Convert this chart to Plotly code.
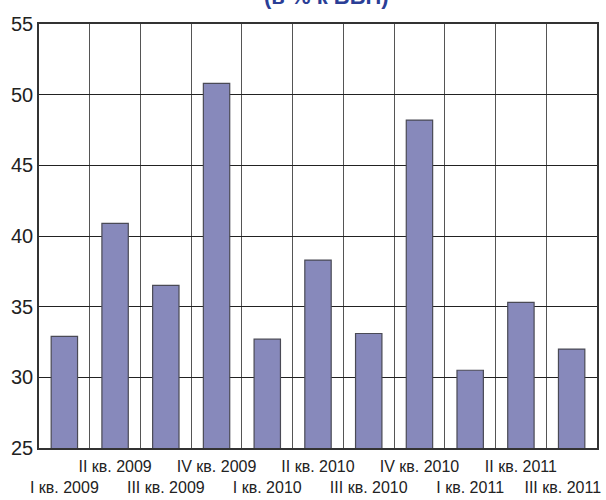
import plotly.graph_objects as go

categories = ["I кв. 2009", "II кв. 2009", "III кв. 2009", "IV кв. 2009",
              "I кв. 2010", "II кв. 2010", "III кв. 2010", "IV кв. 2010",
              "I кв. 2011", "II кв. 2011", "III кв. 2011"]
values = [32.9, 40.9, 36.5, 50.8, 32.7, 38.3, 33.1, 48.2, 30.5, 35.3, 32.0]
y_ticks = [25, 30, 35, 40, 45, 50, 55]
title_text = "(в % к ВВП)"

# two-row staggered tick labels; last one padded so it stays inside the page
tick_text = [("<br>" + c) if i % 2 == 0 else c for i, c in enumerate(categories)]
tick_text[-1] = tick_text[-1] + "\u00a0\u00a0\u00a0\u00a0"

font_family = "Liberation Sans Narrow, Liberation Sans, Arial, sans-serif"

fig = go.Figure()
fig.add_trace(go.Bar(
    x=categories, y=values,
    marker=dict(color="#8789BB", line=dict(color="#4a4a55", width=1.2)),
    width=0.52,
))

fig.update_layout(
    width=606, height=500,
    margin=dict(l=39, r=9, t=24, b=52),
    paper_bgcolor="white", plot_bgcolor="white",
    showlegend=False,
    font=dict(family=font_family, color="#222222"),
    annotations=[dict(
        text="<b>" + title_text + "</b>", x=0.516, xref="paper",
        y=1.0, yref="paper", yanchor="bottom", yshift=13, showarrow=False,
        font=dict(size=22, color="#2a3e96", family="Liberation Sans, sans-serif"),
    )],
)
fig.update_xaxes(
    type="category", tickvals=categories, ticktext=tick_text,
    tickson="boundaries", showgrid=True, gridcolor="#555555", gridwidth=1,
    ticks="", showline=True, linecolor="#333333", linewidth=1.5, mirror=True,
    tickangle=0, automargin=False, ticklabelstandoff=3,
    tickfont=dict(size=16, family=font_family, color="#222222"),
    range=[-0.5, 10.5],
)
fig.update_yaxes(
    range=[25, 55], tickvals=y_ticks, showgrid=True, gridcolor="#222222", gridwidth=1,
    showline=True, linecolor="#333333", linewidth=1.5, mirror=True, automargin=False,
    ticks="", tickfont=dict(size=20, family=font_family, color="#222222"),
    zeroline=False,
)
fig.write_html("out.html")
